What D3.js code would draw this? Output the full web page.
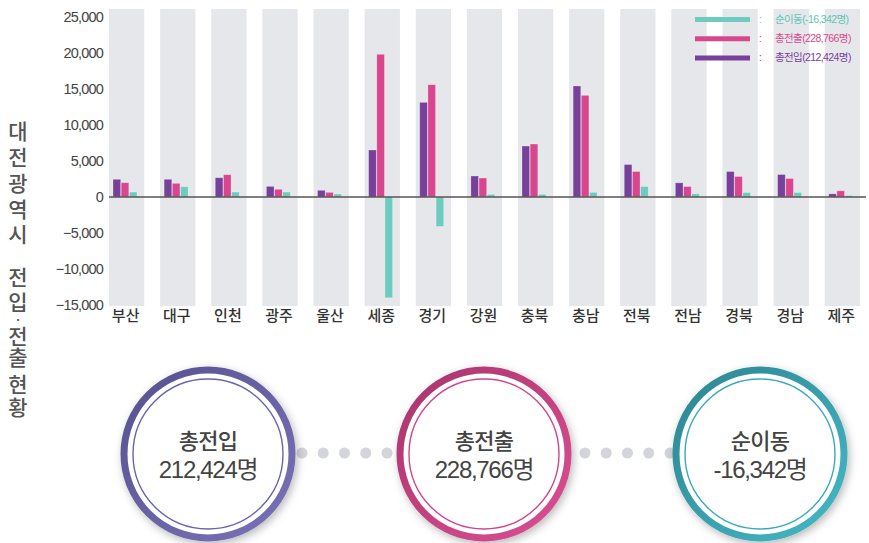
<!DOCTYPE html>
<html>
<head>
<meta charset="utf-8">
<script src="https://cdn.jsdelivr.net/npm/d3@7"></script>
<style>
  body { margin: 0; background: #fff; }
  svg text { font-family: "Liberation Sans", "Noto Sans CJK KR", sans-serif; }
</style>
</head>
<body>
<div id="chart"></div>
<script>
// regions and moves (명)
const regions = ["부산", "대구", "인천", "광주", "울산", "세종", "경기", "강원", "충북", "충남", "전북", "전남", "경북", "경남", "제주"];
const moveIn  = [2460, 2460, 2680, 1480, 930, 6530, 13150, 2920, 7080, 15420, 4510, 1970, 3540, 3125, 440];
const moveOut = [1990, 1900, 3100, 1070, 650, 19820, 15600, 2640, 7360, 14120, 3540, 1460, 2850, 2570, 860];
const moveNet = [690, 1430, 690, 690, 420, -14000, -4100, 370, 370, 650, 1460, 440, 625, 625, 210];
const yTicks = [-15000, -10000, -5000, 0, 5000, 10000, 15000, 20000, 25000];

const legendItems = [
    { key: "net", label: "순이동(-16,342명)", color: "#6ecbbf", text: "#5ec3b6" },
    { key: "out", label: "총전출(228,766명)", color: "#d8478e", text: "#d8478e" },
    { key: "in",  label: "총전입(212,424명)", color: "#76409b", text: "#76409b" }
];
const totals = [
    { title: "총전입", value: "212,424명", c1: "#57528f", c2: "#7a72b8", inner: "#6a63ad" },
    { title: "총전출", value: "228,766명", c1: "#a8356c", c2: "#dc4f93", inner: "#d2448a" },
    { title: "순이동", value: "-16,342명", c1: "#2c8591", c2: "#45b9c6", inner: "#3aaab8" }
];
const titleChars = ["대", "전", "광", "역", "시", "전", "입", "·", "전", "출", "현", "황"];
const titleY = [131, 157, 183, 209, 234, 277, 302, 319, 336, 357, 384, 407];

const width = 869, height = 543;
const colors = { in: "#76409b", out: "#d8478e", net: "#6ecbbf" };
const kr = "'Noto Sans CJK KR', sans-serif";

const svg = d3.select("#chart").append("svg")
    .attr("width", width)
    .attr("height", height);

const defs = svg.append("defs");
const shadow = defs.append("filter").attr("id", "shadow")
    .attr("x", "-30%").attr("y", "-30%").attr("width", "160%").attr("height", "160%");
shadow.append("feDropShadow")
    .attr("dx", 2).attr("dy", 3).attr("stdDeviation", 4)
    .attr("flood-color", "#000").attr("flood-opacity", 0.28);

const x = d3.scaleBand().domain(regions).range([109, 860]).paddingInner(0.31).paddingOuter(0);
const x1 = d3.scaleBand().domain(["in", "out", "net"]).range([4, 28]).paddingInner(0.06);
const y = d3.scaleLinear().domain([-15000, 25000]).range([305, 17]);

const rows = regions.map((r, i) => ({ region: r, in: moveIn[i], out: moveOut[i], net: moveNet[i] }));

// gray column backgrounds
svg.append("g").selectAll("rect")
    .data(regions)
    .join("rect")
    .attr("x", d => x(d))
    .attr("y", y(25000) - 8)
    .attr("width", x.bandwidth())
    .attr("height", y(-15000) - y(25000) + 9)
    .attr("fill", "#e6e7eb");

// legend
const legend = svg.append("g");
legendItems.forEach((d, i) => {
    const ly = 19.5 + i * 19.2;
    legend.append("line")
        .attr("x1", 695).attr("x2", 750)
        .attr("y1", ly).attr("y2", ly)
        .attr("stroke", d.color).attr("stroke-width", 5);
    legend.append("text")
        .attr("x", 759).attr("y", ly + 3.5)
        .attr("font-size", 10).attr("fill", d.text)
        .text(":");
    legend.append("text")
        .attr("x", 775).attr("y", ly + 3.5)
        .attr("font-size", 10.5).attr("fill", d.text)
        .attr("letter-spacing", -0.6)
        .text(d.label);
});

// y axis
const yAxis = svg.append("g")
    .attr("transform", "translate(103,0)")
    .call(d3.axisLeft(y).tickValues(yTicks).tickFormat(d3.format(",")).tickSize(0).tickPadding(0));
yAxis.select(".domain").remove();
yAxis.selectAll("text")
    .attr("font-size", 14.5)
    .attr("fill", "#444")
    .attr("letter-spacing", -0.8)
    .attr("font-family", "'Liberation Sans', sans-serif");

// bars
const groups = svg.append("g").selectAll("g")
    .data(rows)
    .join("g")
    .attr("transform", d => `translate(${x(d.region)},0)`);

groups.selectAll("rect")
    .data(d => ["in", "out", "net"].map(k => ({ key: k, value: d[k] })))
    .join("rect")
    .attr("x", d => x1(d.key))
    .attr("y", d => y(Math.max(0, d.value)))
    .attr("width", x1.bandwidth())
    .attr("height", d => Math.abs(y(d.value) - y(0)))
    .attr("fill", d => colors[d.key])
    .attr("stroke", "#fff")
    .attr("stroke-opacity", 0.35)
    .attr("stroke-width", 0.8);

// zero line
svg.append("line")
    .attr("x1", 109).attr("x2", 866)
    .attr("y1", y(0)).attr("y2", y(0))
    .attr("stroke", "#555").attr("stroke-width", 1.5);

// x labels
svg.append("g").selectAll("text")
    .data(regions)
    .join("text")
    .attr("x", d => x(d) + x.bandwidth() / 2 - 1)
    .attr("y", 321)
    .attr("text-anchor", "middle")
    .attr("font-family", kr)
    .attr("font-weight", 500)
    .attr("font-size", 15)
    .attr("fill", "#333")
    .text(d => d);

// vertical title, one text element with a tspan per character
svg.append("text")
    .attr("font-family", kr)
    .attr("font-weight", 500)
    .attr("font-size", 21)
    .attr("fill", "#555")
    .attr("text-anchor", "middle")
    .selectAll("tspan")
    .data(titleChars)
    .join("tspan")
    .attr("x", 18)
    .attr("y", (d, i) => titleY[i] + (d === "·" ? 6 : 8))
    .attr("font-size", d => d === "·" ? 18 : null)
    .text(d => d);

// summary circles
const cx = d3.scalePoint().domain(totals.map(d => d.title)).range([208, 760]);
const cy = 454, r = 84;

const dotX = d3.scaleLinear().domain([0, 4]);
[[302, 387], [585, 670]].forEach(ext => {
    dotX.range(ext);
    svg.append("g").selectAll("circle")
        .data(d3.range(5))
        .join("circle")
        .attr("cx", d => dotX(d))
        .attr("cy", cy - 1)
        .attr("r", 5.5)
        .attr("fill", "#d3d5db");
});

totals.forEach((d, i) => {
    const grad = defs.append("linearGradient")
        .attr("id", `ring${i}`)
        .attr("x1", "0%").attr("y1", "0%").attr("x2", "100%").attr("y2", "100%");
    grad.append("stop").attr("offset", "0%").attr("stop-color", d.c1);
    grad.append("stop").attr("offset", "100%").attr("stop-color", d.c2);
});

const badge = svg.append("g").selectAll("g")
    .data(totals)
    .join("g")
    .attr("transform", d => `translate(${cx(d.title)},${cy})`);

badge.append("circle")
    .attr("r", r)
    .attr("fill", "#fff")
    .attr("stroke", (d, i) => `url(#ring${i})`)
    .attr("stroke-width", 7)
    .attr("filter", "url(#shadow)");

badge.append("circle")
    .attr("r", r - 9)
    .attr("fill", "none")
    .attr("stroke", d => d.inner)
    .attr("stroke-width", 1.4);

badge.append("text")
    .attr("y", -5)
    .attr("text-anchor", "middle")
    .attr("font-family", kr)
    .attr("font-weight", 500)
    .attr("font-size", 22)
    .attr("fill", "#444")
    .attr("letter-spacing", -0.8)
    .text(d => d.title);

badge.append("text")
    .attr("y", 24)
    .attr("text-anchor", "middle")
    .attr("font-size", 24)
    .attr("fill", "#444")
    .attr("letter-spacing", -1.3)
    .text(d => d.value);
</script>
</body>
</html>
